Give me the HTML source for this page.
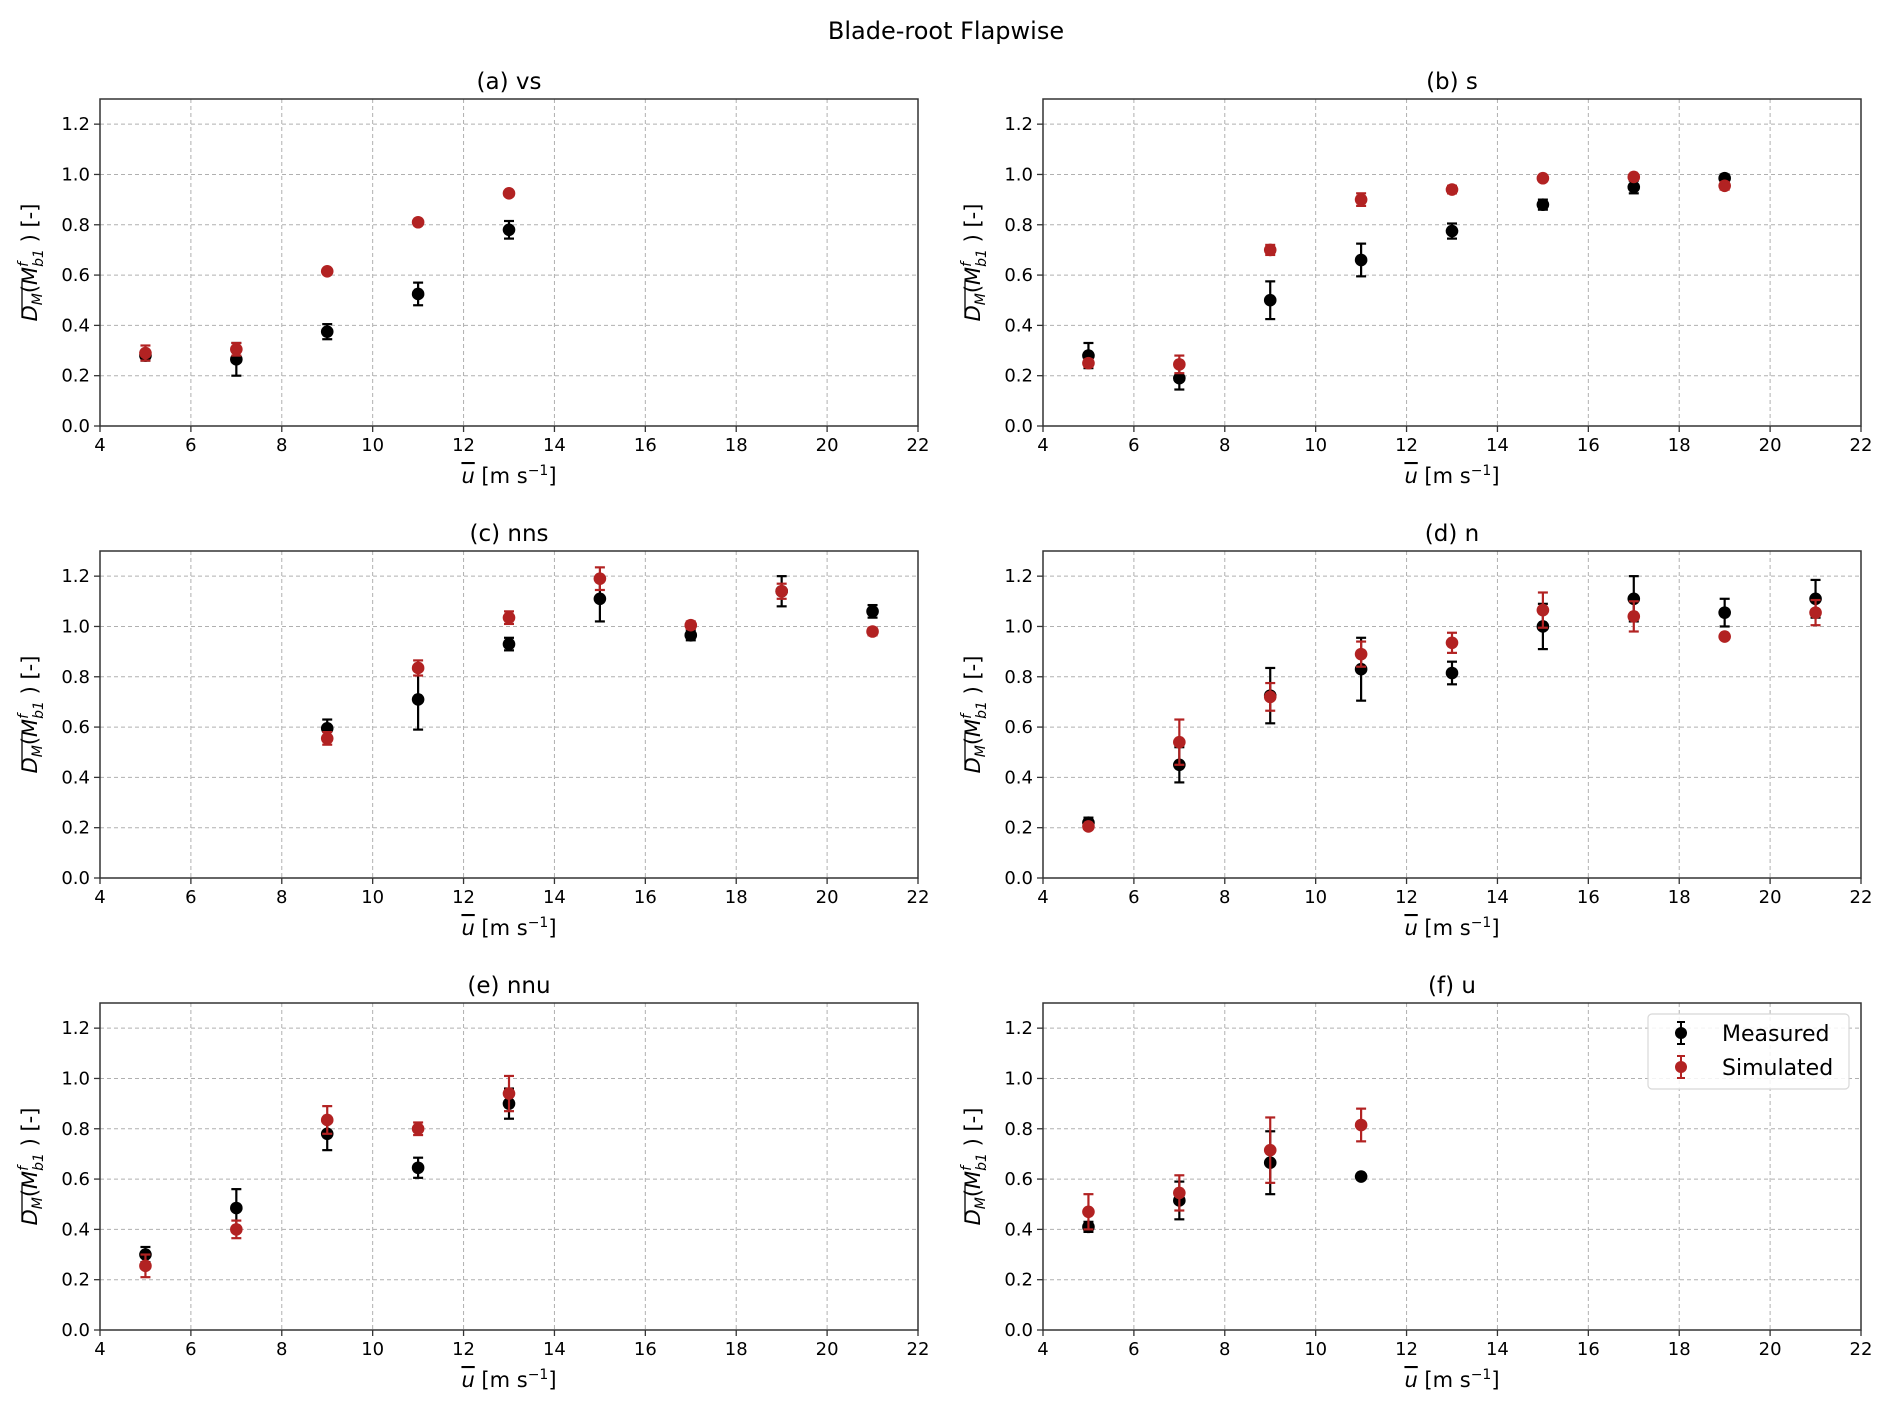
<!DOCTYPE html>
<html><head><meta charset="utf-8"><style>
html,body{margin:0;padding:0;background:#fff;}
svg{display:block;font-family:"DejaVu Sans","Liberation Sans",sans-serif;}
</style></head><body>
<svg id="fig" width="1892" height="1410" viewBox="0 0 1892 1410" xmlns="http://www.w3.org/2000/svg">
<rect width="1892" height="1410" fill="#fff"/>
<text x="946" y="39" text-anchor="middle" font-size="24">Blade-root Flapwise</text>
</svg>
<script>
const panelTitles = ["(a) vs","(b) s","(c) nns","(d) n","(e) nnu","(f) u"];
const xTicks = [4,6,8,10,12,14,16,18,20,22];
const yTicks = [0.0,0.2,0.4,0.6,0.8,1.0,1.2];
const measX = [[5,7,9,11,13],[5,7,9,11,13,15,17,19],[9,11,13,15,17,19,21],[5,7,9,11,13,15,17,19,21],[5,7,9,11,13],[5,7,9,11]];
const measY = [[0.28,0.265,0.375,0.525,0.78],[0.28,0.19,0.5,0.66,0.775,0.88,0.95,0.985],[0.595,0.71,0.93,1.11,0.965,1.14,1.06],[0.22,0.45,0.725,0.83,0.815,1.0,1.11,1.055,1.11],[0.3,0.485,0.78,0.645,0.9],[0.41,0.515,0.665,0.61]];
const measErr = [[0.02,0.065,0.03,0.045,0.035],[0.05,0.045,0.075,0.065,0.03,0.02,0.025,0.015],[0.035,0.12,0.025,0.09,0.02,0.06,0.025],[0.02,0.07,0.11,0.125,0.045,0.09,0.09,0.055,0.075],[0.03,0.075,0.065,0.04,0.06],[0.02,0.075,0.125,0.01]];
const simX = measX;
const simY = [[0.29,0.305,0.615,0.81,0.925],[0.25,0.245,0.7,0.9,0.94,0.985,0.99,0.955],[0.555,0.835,1.035,1.19,1.005,1.14,0.98],[0.205,0.54,0.72,0.89,0.935,1.065,1.04,0.96,1.055],[0.255,0.4,0.835,0.8,0.94],[0.47,0.545,0.715,0.815]];
const simErr = [[0.03,0.025,0.01,0.01,0.01],[0.015,0.035,0.02,0.025,0.015,0.01,0.01,0.015],[0.025,0.03,0.025,0.045,0.015,0.03,0.015],[0.01,0.09,0.055,0.05,0.04,0.07,0.06,0.01,0.05],[0.045,0.035,0.055,0.025,0.07],[0.07,0.07,0.13,0.065]];

const NS="http://www.w3.org/2000/svg";
const svg=document.getElementById('fig');
function mk(tag,attrs,parent){const e=document.createElementNS(NS,tag);for(const k in attrs)e.setAttribute(k,attrs[k]);(parent||svg).appendChild(e);return e;}
const colL=[100,1043], rowT=[99,551,1003], W=818, H=327;
const RED="#b22222";
function drawSeries(g,xs,ys,es,color,sx,sy,name){
  for(let i=0;i<xs.length;i++){
    const cx=sx(xs[i]), cy=sy(ys[i]), y1=sy(ys[i]+es[i]), y2=sy(ys[i]-es[i]);
    const pt=mk('g',{},g);
    
    
    mk('line',{x1:cx,x2:cx,y1:y1,y2:y2,stroke:color,'stroke-width':2.2},pt);
    mk('line',{x1:cx-5,x2:cx+5,y1:y1,y2:y1,stroke:color,'stroke-width':2.2},pt);
    mk('line',{x1:cx-5,x2:cx+5,y1:y2,y2:y2,stroke:color,'stroke-width':2.2},pt);
    mk('circle',{cx:cx,cy:cy,r:6.3,fill:color},pt);
  }
}
for(let p=0;p<6;p++){
  const L=colL[p%2], T=rowT[Math.floor(p/2)], B=T+H, R=L+W;
  const sx=v=>L+(v-4)/18*W, sy=v=>B-v/1.3*H;
  const g=mk('g',{});
  
  
  const t=mk('text',{x:(L+R)/2,y:T-10,'text-anchor':'middle','font-size':23},g);
  t.textContent=panelTitles[p];
  
  
  xTicks.forEach(v=>{
    const x=sx(v);
    if(v>4&&v<22) mk('line',{x1:x,x2:x,y1:T,y2:B,stroke:'#b0b0b0','stroke-width':1,'stroke-dasharray':'4,3'},g);
    mk('line',{x1:x,x2:x,y1:B,y2:B+6,stroke:'#333','stroke-width':1.3},g);
    const tt=mk('text',{x:x,y:B+25,'text-anchor':'middle','font-size':18},g);
    tt.textContent=v;
    
    
  });
  yTicks.forEach(v=>{
    const y=sy(v);
    if(v>0) mk('line',{x1:L,x2:R,y1:y,y2:y,stroke:'#b0b0b0','stroke-width':1,'stroke-dasharray':'4,3'},g);
    mk('line',{x1:L-6,x2:L,y1:y,y2:y,stroke:'#333','stroke-width':1.3},g);
    const tt=mk('text',{x:L-10,y:y+6,'text-anchor':'end','font-size':18},g);
    tt.textContent=v.toFixed(1);
    
    
  });
  mk('rect',{x:L,y:T,width:W,height:H,fill:'none',stroke:'#333','stroke-width':1.5},g);
  const xl=mk('text',{x:(L+R)/2,y:B+57,'text-anchor':'middle','font-size':21},g);
  xl.innerHTML='<tspan text-decoration="overline" font-style="italic">u</tspan> [m s<tspan dy="-8" font-size="14">−1</tspan><tspan dy="8">]</tspan>';
  
  
  const yl=mk('text',{transform:`translate(${L-63},${(T+B)/2}) rotate(-90)`,'text-anchor':'middle','font-size':21},g);
  yl.innerHTML='<tspan font-style="italic">D</tspan><tspan font-size="14" font-style="italic" dy="5">M</tspan><tspan dy="-5">(</tspan><tspan font-style="italic">M</tspan><tspan font-size="14" font-style="italic" dy="-9">f</tspan><tspan font-size="14" font-style="italic" dx="-5" dy="15">b1</tspan><tspan dy="-6"> ) [-]</tspan>';
  
  
  mk('line',{x1:L-78,x2:L-78,y1:(T+B)/2+55,y2:(T+B)/2+19,stroke:'#000','stroke-width':1.3},g);
  drawSeries(g,measX[p],measY[p],measErr[p],'#000',sx,sy,'measured');
  drawSeries(g,simX[p],simY[p],simErr[p],RED,sx,sy,'simulated');
}
const lg=mk('g',{});


mk('rect',{x:1648,y:1014,width:201,height:75,rx:4,fill:'#fff','fill-opacity':0.85,stroke:'#d8d8d8','stroke-width':1.2},lg);
[['Measured','#000',1033],['Simulated',RED,1067]].forEach(([lab,c,y])=>{
  const e=mk('g',{},lg);
  
  
  mk('line',{x1:1681,x2:1681,y1:y-11,y2:y+11,stroke:c,'stroke-width':2},e);
  mk('line',{x1:1677,x2:1685,y1:y-11,y2:y-11,stroke:c,'stroke-width':2},e);
  mk('line',{x1:1677,x2:1685,y1:y+11,y2:y+11,stroke:c,'stroke-width':2},e);
  mk('circle',{cx:1681,cy:y,r:6,fill:c},e);
  const t=mk('text',{x:1722,y:y+8,'font-size':22},e);
  t.textContent=lab;
});
</script>
</body></html>
